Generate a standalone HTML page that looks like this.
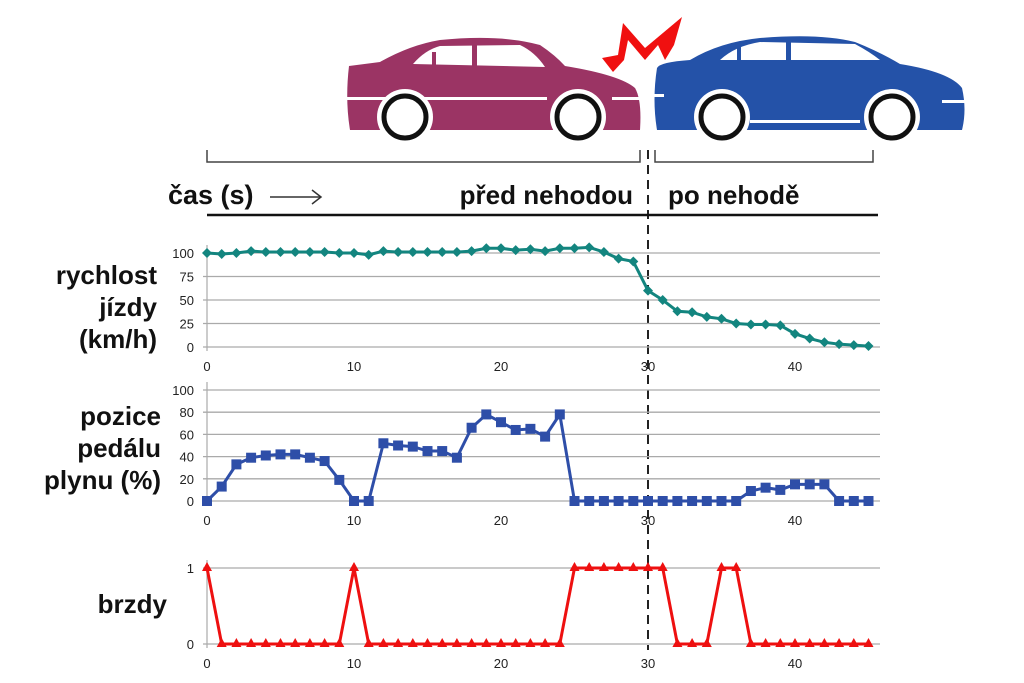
<!DOCTYPE html>
<html><head><meta charset="utf-8"><style>
html,body{margin:0;padding:0;background:#fff;}
svg{display:block;}
.lab{font-family:"Liberation Sans",sans-serif;font-weight:bold;font-size:26px;fill:#111;}
.tk{font-family:"Liberation Sans",sans-serif;font-size:13px;fill:#222;}
</style></head><body>
<svg width="1024" height="683" viewBox="0 0 1024 683" xmlns="http://www.w3.org/2000/svg">
<g>
<path d="M349,66 L380,62 Q410,45 440,40 Q500,34 540,45 Q555,55 565,66 Q620,75 635,88 Q642,100 640,130 L350,130 Q345,100 349,66 Z" fill="#9b3464"/>
<path d="M413,64 Q425,50 440,46 L520,45 Q535,52 545,67 Z" fill="#fff"/>
<rect x="432" y="52" width="4" height="14" fill="#9b3464"/>
<rect x="472" y="45" width="5" height="22" fill="#9b3464"/>
<rect x="347" y="97" width="200" height="3" fill="#fff"/>
<rect x="612" y="97" width="30" height="3" fill="#fff"/>
<circle cx="405" cy="117" r="28" fill="#fff"/>
<circle cx="405" cy="117" r="21" fill="#fff" stroke="#111" stroke-width="5"/>
<circle cx="578" cy="117" r="28" fill="#fff"/>
<circle cx="578" cy="117" r="21" fill="#fff" stroke="#111" stroke-width="5"/>
</g>
<g>
<path d="M657,68 Q660,62 690,60 Q720,42 760,38 Q820,33 855,42 Q880,52 900,64 Q950,72 962,88 Q967,110 962,130 L657,130 Q652,100 657,68 Z" fill="#2452a8"/>
<path d="M720,60 Q735,46 760,42 L855,44 Q870,52 880,60 Z" fill="#fff"/>
<rect x="737" y="46" width="4" height="16" fill="#2452a8"/>
<rect x="786" y="41" width="5" height="20" fill="#2452a8"/>
<rect x="652" y="94" width="12" height="3" fill="#fff"/>
<rect x="750" y="120" width="110" height="3" fill="#fff"/>
<rect x="942" y="100" width="25" height="3" fill="#fff"/>
<circle cx="722" cy="117" r="28" fill="#fff"/>
<circle cx="722" cy="117" r="21" fill="#fff" stroke="#111" stroke-width="5"/>
<circle cx="892" cy="117" r="28" fill="#fff"/>
<circle cx="892" cy="117" r="21" fill="#fff" stroke="#111" stroke-width="5"/>
</g>
<polygon points="602,58 618,55 623,23 645,48 682,17 674,45 665,60 658,45 645,60 628,40 624,60 613,72" fill="#f01010"/>
<path d="M207,150 V162 H640 V150 M655,150 V162 H873 V150" fill="none" stroke="#444" stroke-width="1.5"/>
<line x1="648" y1="150" x2="648" y2="650" stroke="#222" stroke-width="2" stroke-dasharray="9,6"/>
<text class="lab" x="168" y="204" style="font-size:27px">čas (s)</text>
<line x1="270" y1="197" x2="320" y2="197" stroke="#333" stroke-width="1.5"/>
<path d="M312,190 L321,197 L312,204" fill="none" stroke="#333" stroke-width="1.5"/>
<text class="lab" x="633" y="204" text-anchor="end">před nehodou</text>
<text class="lab" x="668" y="204">po nehodě</text>
<line x1="207" y1="215" x2="878" y2="215" stroke="#111" stroke-width="2.5"/>
<text class="lab" x="157" y="284" text-anchor="end">rychlost</text>
<text class="lab" x="157" y="316" text-anchor="end">jízdy</text>
<text class="lab" x="157" y="348" text-anchor="end">(km/h)</text>
<text class="lab" x="161" y="425" text-anchor="end">pozice</text>
<text class="lab" x="161" y="457" text-anchor="end">pedálu</text>
<text class="lab" x="161" y="489" text-anchor="end">plynu (%)</text>
<text class="lab" x="167" y="613" text-anchor="end">brzdy</text>
<g id="charts"></g>
</svg>
<script>
const NS="http://www.w3.org/2000/svg",g=document.getElementById('charts');
function el(t,a,txt){const e=document.createElementNS(NS,t);for(const k in a)e.setAttribute(k,a[k]);if(txt!==undefined)e.textContent=txt;g.appendChild(e);return e;}
const X=v=>207+v*14.7;
function chart(y0,y1,ticks,max,tickY,data,color,marker){
  el('line',{x1:207,y1:y1-8,x2:207,y2:y0+4,stroke:'#aaa','stroke-width':1.2});
  ticks.forEach(t=>{const y=y0-(y0-y1)*t/max;el('line',{x1:203,y1:y,x2:880,y2:y,stroke:'#aaa','stroke-width':1.3});
    el('text',{class:'tk',x:194,y:y+5,'text-anchor':'end'},String(t));});
  [0,10,20,30,40].forEach(v=>el('text',{class:'tk',x:X(v),y:tickY,'text-anchor':'middle'},String(v)));
  const pts=data.map((d,i)=>[X(i),y0-(y0-y1)*d/max]);
  el('polyline',{points:pts.map(p=>p.join(',')).join(' '),fill:'none',stroke:color,'stroke-width':3});
  pts.forEach(([x,y])=>{
    if(marker==='d')el('polygon',{points:`${x},${y-5} ${x+5},${y} ${x},${y+5} ${x-5},${y}`,fill:color});
    else if(marker==='s')el('rect',{x:x-5,y:y-5,width:10,height:10,fill:color});
    else el('polygon',{points:`${x},${y-6} ${x+5},${y+3} ${x-5},${y+3}`,fill:color});
  });
}
chart(347,253,[0,25,50,75,100],100,371,
[100,99,100,102,101,101,101,101,101,100,100,98,102,101,101,101,101,101,102,105,105,103,104,102,105,105,106,101,94,91,60,50,38,37,32,30,25,24,24,23,14,9,5,3,2,1],'#13857f','d');
chart(501,390,[0,20,40,60,80,100],100,525,
[0,13,33,39,41,42,42,39,36,19,0,0,52,50,49,45,45,39,66,78,71,64,65,58,78,0,0,0,0,0,0,0,0,0,0,0,0,9,12,10,15,15,15,0,0,0],'#2e4ea8','s');
chart(644,568,[0,1],1,668,
[1,0,0,0,0,0,0,0,0,0,1,0,0,0,0,0,0,0,0,0,0,0,0,0,0,1,1,1,1,1,1,1,0,0,0,1,1,0,0,0,0,0,0,0,0,0],'#ee1010','t');
</script>
</body></html>
